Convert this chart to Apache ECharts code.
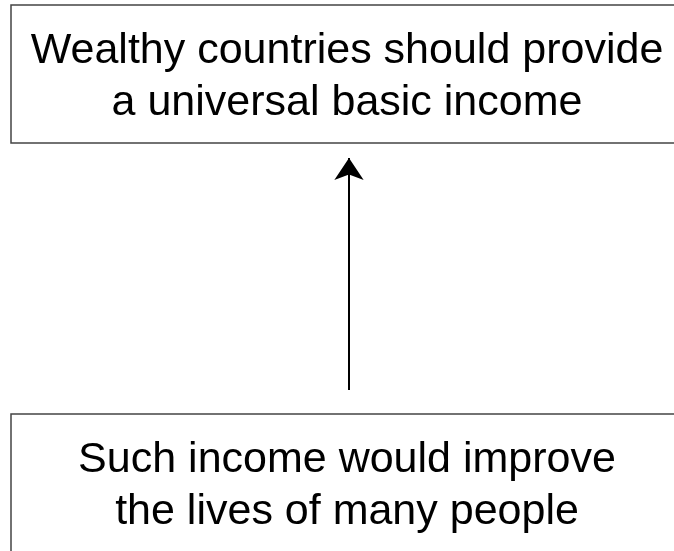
<!DOCTYPE html>
<html>
<head>
<meta charset="utf-8">
<script src="https://cdn.jsdelivr.net/npm/echarts@6/dist/echarts.min.js"></script>
<style>
  html, body { margin: 0; padding: 0; background: #fff; }
  #chart { width: 674px; height: 551px; }
</style>
</head>
<body>
<div id="chart"></div>
<script>
  // 论证框（结论在上，理由在下）
  const claims = ['Wealthy countries should provide\na universal basic income',
    'Such income would improve\nthe lives of many people'];
  // 框的左上角与右下角（画布坐标）
  const boxX0 = [11, 11];
  const boxY0 = [5, 414];
  const boxX1 = [720, 720];
  const boxY1 = [143, 620];
  // 文字中心
  const textX = [347, 347];
  const textY = [77, 486];
  // 箭头：从理由指向结论
  const arrowFrom = [349, 390];
  const arrowTo = [349, 158];

  let chart = echarts.init(document.getElementById('chart'));

  let boxData = claims.map((c, i) => [boxX0[i], boxY0[i], boxX1[i], boxY1[i], textX[i], textY[i], c]);

  let option = {
    animation: false,
    grid: {left: 0, right: 0, top: 0, bottom: 0},
    xAxis: {type: 'value', min: 0, max: 674, show: false},
    yAxis: {type: 'value', min: 0, max: 551, inverse: true, show: false},
    series: [
      {
        type: 'custom',
        clip: true,
        data: boxData,
        renderItem: function (params, api) {
          let p0 = api.coord([api.value(0), api.value(1)]);
          let p1 = api.coord([api.value(2), api.value(3)]);
          let pt = api.coord([api.value(4), api.value(5)]);
          return {
            type: 'group',
            children: [
              {
                type: 'rect',
                shape: {x: p0[0], y: p0[1], width: p1[0] - p0[0], height: p1[1] - p0[1]},
                style: {fill: '#fff', stroke: '#444', lineWidth: 1.5}
              },
              {
                type: 'text',
                style: {
                  x: pt[0],
                  y: pt[1],
                  text: boxData[params.dataIndex][6],
                  align: 'center',
                  verticalAlign: 'middle',
                  font: '43px "Liberation Sans", Arial, sans-serif',
                  lineHeight: 52,
                  fill: '#000'
                }
              }
            ]
          };
        }
      },
      {
        type: 'lines',
        coordinateSystem: 'cartesian2d',
        polyline: false,
        symbol: ['none', 'arrow'],
        symbolSize: 22,
        lineStyle: {color: '#000', width: 2, opacity: 1},
        data: [{coords: [arrowFrom, arrowTo]}]
      }
    ]
  };
  chart.setOption(option);
</script>
</body>
</html>
